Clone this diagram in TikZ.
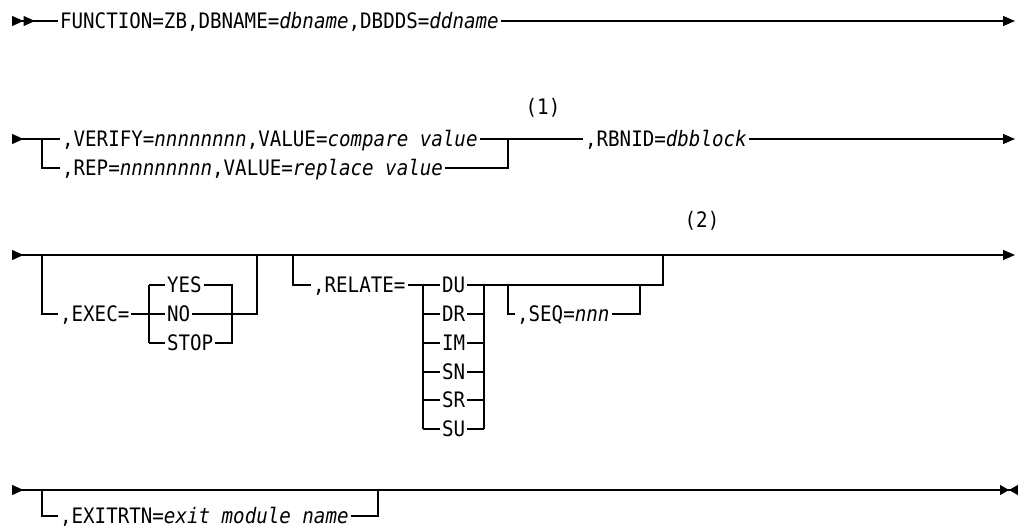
\documentclass[tikz,border=0pt]{standalone}
\usepackage{fontspec}
\setmainfont{DejaVu Sans Mono}[FakeStretch=0.9]
\usepackage{tikz}
\usetikzlibrary{arrows.meta}

\begin{document}
\begin{tikzpicture}[x=1pt,y=-1pt,line width=1.2pt,
	voce/.style={font=\fontsize{21.3}{25}\selectfont,anchor=west,inner xsep=1.5pt,inner ysep=0pt,text height=15.5pt,text depth=0pt},
	nota/.style={font=\fontsize{21.3}{25}\selectfont},
	inizio/.style={{Triangle[reversed,length=11.5pt,width=10pt]}-},
	doppio/.style={{Triangle[reversed,length=11.5pt,width=10pt]Triangle[reversed,length=11.5pt,width=10pt]}-},
	avanti/.style={-{Triangle[length=12pt,width=10pt]}},
	tratta/.style={{Triangle[reversed,length=11.5pt,width=10pt]}-{Triangle[length=12pt,width=10pt]}},
	chiusa/.style={{Triangle[reversed,length=11.5pt,width=10pt]}-{Triangle[length=9pt,width=10pt]Triangle[reversed,length=9pt,width=10pt]}}]
				\useasboundingbox (0,0) rectangle (1018,527);
				
				% Prima riga
				\coordinate (r1s) at (12,21);
				\coordinate (r1e) at (1015,21);
				\node[voce] (funz) at (58,21) {FUNCTION=ZB,DBNAME=\textit{dbname},DBDDS=\textit{ddname}};
				\draw[doppio] (r1s) -- (funz.west);
				\draw[avanti] (funz.east) -- (r1e);
				
				% Seconda riga: VERIFY oppure REP
				\coordinate (r2s) at (12,139);
				\coordinate (r2e) at (1015,139);
				\coordinate (v1) at (42,139);
				\coordinate (v2) at (42,168);
				\coordinate (w1) at (508,139);
				\coordinate (w2) at (508,168);
				\node[voce] (verify) at (60,139) {,VERIFY=\textit{nnnnnnnn},VALUE=\textit{compare value}};
				\node[voce] (rep) at (60,168) {,REP=\textit{nnnnnnnn},VALUE=\textit{replace value}};
				\node[nota] (n1) at (543,108) {(1)};
				\node[voce] (rbnid) at (583,139) {,RBNID=\textit{dbblock}};
				\draw[inizio] (r2s) -- (v1) -- (verify.west);
				\draw (v1) -- (v2) -- (rep.west);
				\draw (verify.east) -- (w1) -- (rbnid.west);
				\draw (rep.east) -- (w2) -- (w1);
				\draw[avanti] (rbnid.east) -- (r2e);
				
				% Terza riga: linea principale
				\coordinate (r3s) at (12,255);
				\coordinate (r3e) at (1015,255);
				\draw[tratta] (r3s) -- (r3e);
				
				% EXEC
				\coordinate (e1) at (42,255);
				\coordinate (e2) at (42,314);
				\coordinate (e3) at (257,314);
				\coordinate (e4) at (257,255);
				\coordinate (s1) at (149,285);
				\coordinate (s3) at (149,343);
				\coordinate (t1) at (232,285);
				\coordinate (t3) at (232,343);
				\node[voce] (exec) at (58,314) {,EXEC=};
				\node[voce] (yes) at (165,285) {YES};
				\node[voce] (no) at (165,314) {NO};
				\node[voce] (stop) at (165,343) {STOP};
				\draw (e1) -- (e2) -- (exec.west);
				\draw (exec.east) -- (no.west);
				\draw (s1) -- (s3);
				\draw (s1) -- (yes.west);
				\draw (s3) -- (stop.west);
				\draw (yes.east) -- (t1) -- (t3) -- (stop.east);
				\draw (no.east) -- (e3) -- (e4);
				
				% RELATE
				\coordinate (q1) at (293,255);
				\coordinate (q2) at (293,285);
				\coordinate (q3) at (663,285);
				\coordinate (q4) at (663,255);
				\coordinate (c1) at (423,285);
				\coordinate (c6) at (423,429);
				\coordinate (d1) at (484,285);
				\coordinate (d6) at (484,429);
				\node[voce] (relate) at (311,285) {,RELATE=};
				\node[voce] (du) at (440,285) {DU};
				\node[voce] (dr) at (440,314) {DR};
				\node[voce] (im) at (440,343) {IM};
				\node[voce] (sn) at (440,372) {SN};
				\node[voce] (sr) at (440,400) {SR};
				\node[voce] (su) at (440,429) {SU};
				\node[nota] (n2) at (702,221) {(2)};
				\draw (q1) -- (q2) -- (relate.west);
				\draw (relate.east) -- (du.west);
				\draw (c1) -- (c6);
				\draw (d1) -- (d6);
				\draw (c1 |- dr.west) -- (dr.west);
				\draw (c1 |- im.west) -- (im.west);
				\draw (c1 |- sn.west) -- (sn.west);
				\draw (c1 |- sr.west) -- (sr.west);
				\draw (c1 |- su.west) -- (su.west);
				\draw (dr.east) -- (d1 |- dr.east);
				\draw (im.east) -- (d1 |- im.east);
				\draw (sn.east) -- (d1 |- sn.east);
				\draw (sr.east) -- (d1 |- sr.east);
				\draw (su.east) -- (d1 |- su.east);
				\draw (du.east) -- (q3) -- (q4);
				
				% SEQ
				\coordinate (g1) at (508,285);
				\coordinate (g2) at (508,314);
				\coordinate (h1) at (640,285);
				\coordinate (h2) at (640,314);
				\node[voce] (seq) at (515,314) {,SEQ=\textit{nnn}};
				\draw (g1) -- (g2) -- (seq.west);
				\draw (seq.east) -- (h2) -- (h1);
				
				% Quarta riga
				\coordinate (r4s) at (12,490);
				\coordinate (r4e) at (1018,490);
				\coordinate (x1) at (42,490);
				\coordinate (x2) at (42,516);
				\coordinate (y1) at (378,490);
				\coordinate (y2) at (378,516);
				\node[voce] (exit) at (58,516) {,EXITRTN=\textit{exit module name}};
				\draw[chiusa] (r4s) -- (r4e);
				\draw (x1) -- (x2) -- (exit.west);
				\draw (exit.east) -- (y2) -- (y1);
			\end{tikzpicture}
\end{document}
